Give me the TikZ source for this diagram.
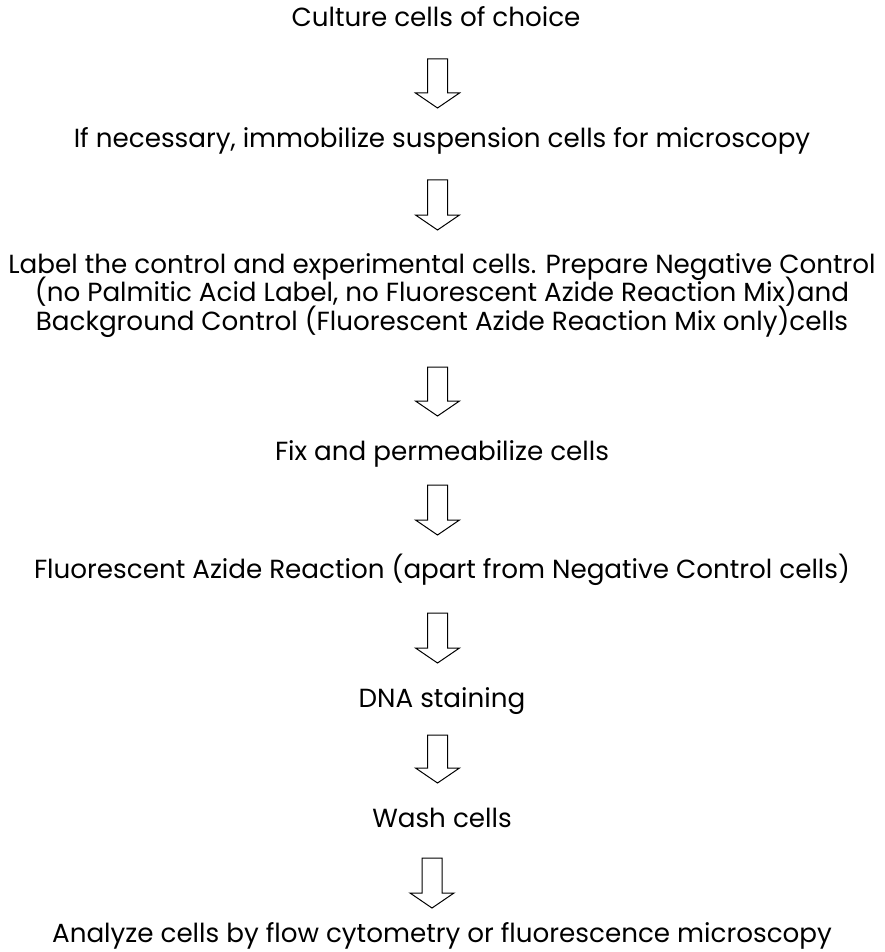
\documentclass[tikz,border=0pt]{standalone}
\usepackage{fontspec}
\setmainfont{Poppins}
\usetikzlibrary{calc}

\newcommand{\stepfont}{\fontsize{26.2}{28.5}\selectfont\lineskiplimit=-100pt\relax}

\begin{document}
\begin{tikzpicture}[
    x=1pt, y=1pt,
    stepnode/.style={inner sep=0pt, anchor=base, align=center, font=\stepfont},
    bigarrow/.style={draw=black, line width=1pt, fill=white, line join=miter},
]
\useasboundingbox (0,0) rectangle (884,-952);

% Steps
\node[stepnode] (culture) at (436,-27) {Culture cells of choice};
\node[stepnode] (immob) at (442,-148) {If necessary, immobilize suspension cells for microscopy};
\node[stepnode] (label) at (442,-330) {Label the control and experimental cells. Prepare Negative Control\\(no Palmitic Acid Label, no Fluorescent Azide Reaction Mix)and\\Background Control (Fluorescent Azide Reaction Mix only)cells};
\node[stepnode] (fix) at (442,-460) {Fix and permeabilize cells};
\node[stepnode] (react) at (442,-578) {Fluorescent Azide Reaction (apart from Negative Control cells)};
\node[stepnode] (dna) at (442,-707) {DNA staining};
\node[stepnode] (wash) at (442,-827) {Wash cells};
\node[stepnode] (analyze) at (442,-942) {Analyze cells by flow cytometry or fluorescence microscopy};

% Arrow ends
\coordinate (a1) at (437.5,-59);  \coordinate (b1) at (437.5,-108);
\coordinate (a2) at (437.5,-180); \coordinate (b2) at (437.5,-230);
\coordinate (a3) at (437.5,-367); \coordinate (b3) at (437.5,-416);
\coordinate (a4) at (437.5,-485); \coordinate (b4) at (437.5,-535);
\coordinate (a5) at (437.5,-613); \coordinate (b5) at (437.5,-663);
\coordinate (a6) at (437.5,-735); \coordinate (b6) at (437.5,-783);
\coordinate (a7) at (432,-858);   \coordinate (b7) at (432,-908);

\foreach \i in {1,...,7}
    \draw[bigarrow] ($(a\i)+(-10,0)$) -- ($(a\i)+(10,0)$) -- ($(b\i)+(10,15)$) -- ($(b\i)+(22,15)$)
        -- (b\i) -- ($(b\i)+(-22,15)$) -- ($(b\i)+(-10,15)$) -- cycle;

\end{tikzpicture}
\end{document}
